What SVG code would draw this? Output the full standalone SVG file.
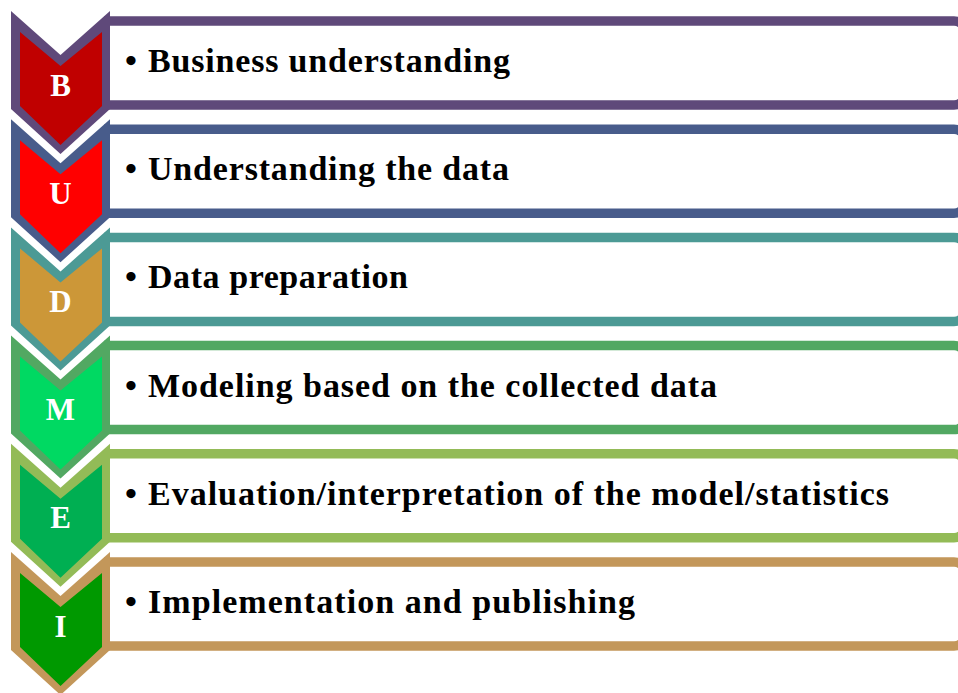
<svg xmlns="http://www.w3.org/2000/svg" width="958" height="693" viewBox="0 0 958 693">
<style>
.box{fill:#ffffff;stroke-width:9.5}
.lbl{font-family:"Liberation Serif","Times New Roman",serif;font-weight:bold;font-size:34px;fill:#000000}
.ltr{font-family:"Liberation Serif","Times New Roman",serif;font-weight:bold;font-size:31px;fill:#ffffff;text-anchor:middle}
</style>
<defs>
<path id="outer" d="M11,0 L60.5,44 L110,0 L110,98 L60.5,143 L11,98 Z"/>
<path id="inner" d="M20,21 L60.5,55 L102,21 L102,95 L60.5,134 L20,95 Z"/>
<path id="frame" d="M104,10 H954 A12,12 0 0 1 966,22 V82 A12,12 0 0 1 954,94 H104"/>
</defs>
<rect width="958" height="693" fill="#ffffff"/>
<g id="connectors"></g>
<g id="row-b" transform="translate(0,11)">
<use href="#frame" class="box" stroke="#5F497A"/>
<use href="#outer" fill="#5F497A"/>
<use href="#inner" fill="#C00000"/>
<text class="ltr" x="60.5" y="84.5">B</text>
<text class="lbl" y="61"><tspan x="125">•</tspan><tspan x="148" textLength="362" lengthAdjust="spacing">Business understanding</tspan></text>
</g>
<g id="row-u" transform="translate(0,119.2)">
<use href="#frame" class="box" stroke="#485C8B"/>
<use href="#outer" fill="#485C8B"/>
<use href="#inner" fill="#FF0000"/>
<text class="ltr" x="60.5" y="84.5">U</text>
<text class="lbl" y="61"><tspan x="125">•</tspan><tspan x="148" textLength="361" lengthAdjust="spacing">Understanding the data</tspan></text>
</g>
<g id="row-d" transform="translate(0,227.4)">
<use href="#frame" class="box" stroke="#4C9A95"/>
<use href="#outer" fill="#4C9A95"/>
<use href="#inner" fill="#CC9738"/>
<text class="ltr" x="60.5" y="84.5">D</text>
<text class="lbl" y="61"><tspan x="125">•</tspan><tspan x="148" textLength="260" lengthAdjust="spacing">Data preparation</tspan></text>
</g>
<g id="row-m" transform="translate(0,335.6)">
<use href="#frame" class="box" stroke="#52A862"/>
<use href="#outer" fill="#52A862"/>
<use href="#inner" fill="#00D962"/>
<text class="ltr" x="60.5" y="84.5">M</text>
<text class="lbl" y="61"><tspan x="125">•</tspan><tspan x="148" textLength="569" lengthAdjust="spacing">Modeling based on the collected data</tspan></text>
</g>
<g id="row-e" transform="translate(0,443.8)">
<use href="#frame" class="box" stroke="#93BB57"/>
<use href="#outer" fill="#93BB57"/>
<use href="#inner" fill="#00AF52"/>
<text class="ltr" x="60.5" y="84.5">E</text>
<text class="lbl" y="61"><tspan x="125">•</tspan><tspan x="148" textLength="741" lengthAdjust="spacing">Evaluation/interpretation of the model/statistics</tspan></text>
</g>
<g id="row-i" transform="translate(0,552)">
<use href="#frame" class="box" stroke="#C3975A"/>
<use href="#outer" fill="#C3975A"/>
<use href="#inner" fill="#009900"/>
<text class="ltr" x="60.5" y="84.5">I</text>
<text class="lbl" y="61"><tspan x="125">•</tspan><tspan x="148" textLength="487" lengthAdjust="spacing">Implementation and publishing</tspan></text>
</g>
</svg>
